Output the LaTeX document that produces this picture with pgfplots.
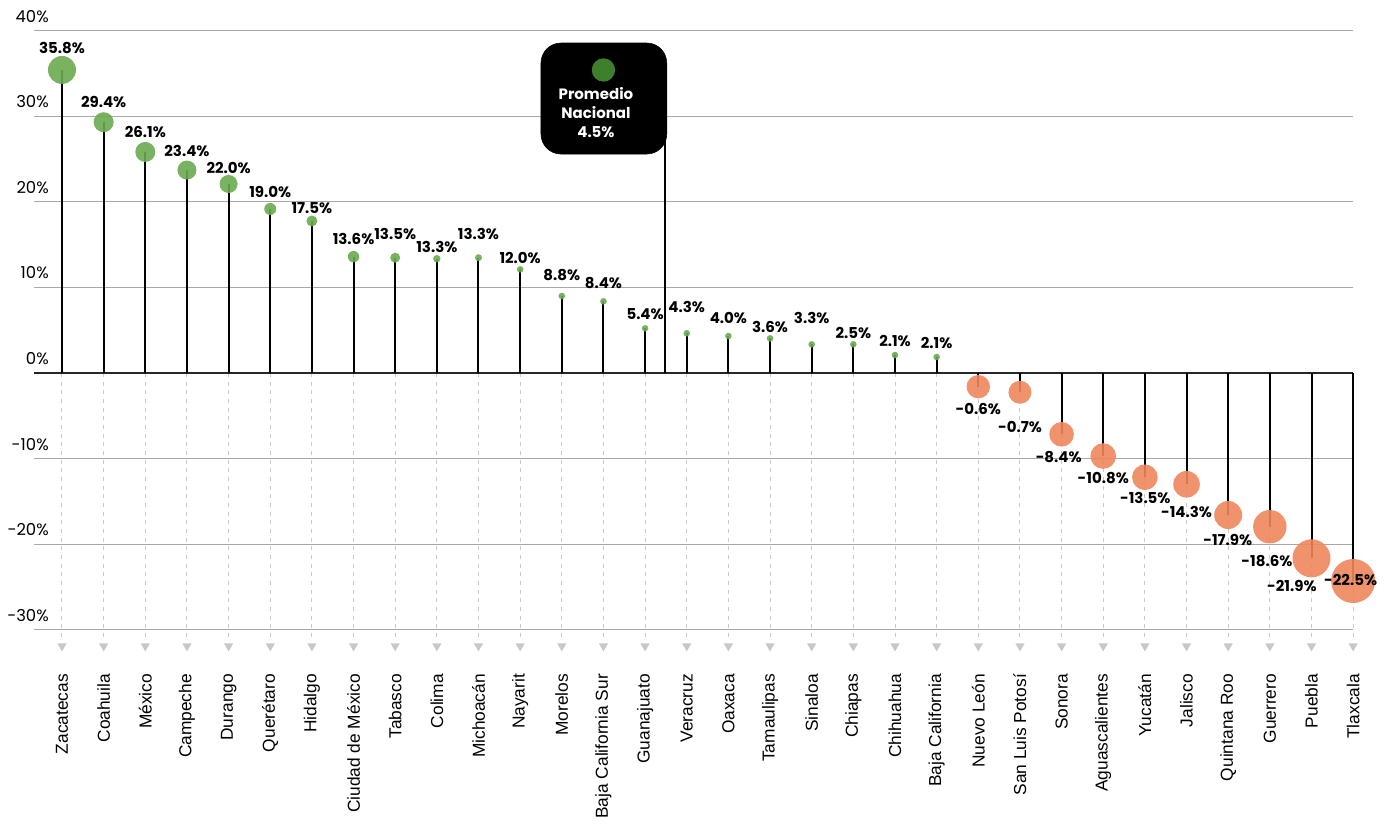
\documentclass[border=0pt]{standalone}
\usepackage{pgfplots}
\pgfplotsset{compat=1.18}
\usepackage{pgfplotstable}
\usepackage{fontspec}
\setmainfont{Poppins}
\newfontfamily\statefont{Liberation Sans}
\definecolor{posgreen}{HTML}{6AAA4F}
\definecolor{natgreen}{HTML}{3D7F2B}
\definecolor{negorange}{HTML}{EE865C}
\definecolor{gridgray}{HTML}{A8A8A8}
\definecolor{dashgray}{HTML}{C8C8C8}

% x: state index, y: drawn dot position, r: dot radius (px), lx/ly: label centre, v: value
\pgfplotstableread{
x  y      r     lx     ly     v
0  35.40  14.0  0      38.00  35.8
1  29.30  10.0  1      31.66  29.4
2  25.82  10.0  2      28.15  26.1
3  23.71  9.5   3      25.93  23.4
4  22.08  9.0   4      23.98  22.0
5  19.16  6.0   5      21.18  19.0
6  17.76  5.5   6      19.31  17.5
7  13.59  5.7   7      15.60  13.6
8  13.47  5.0   8      16.24  13.5
9  13.35  3.7   9      14.75  13.3
10 13.47  3.5   10     16.24  13.3
11 12.11  3.3   11     13.40  12.0
12 9.00   3.3   12     11.48  8.8
13 8.38   3.3   13     10.48  8.4
14 5.22   3.3   14     6.86   5.4
15 4.64   3.3   15     7.75   4.3
16 4.32   3.3   16     6.46   4.0
17 4.05   3.3   17     5.34   3.6
18 3.35   3.3   18     6.43   3.3
19 3.35   3.3   19     4.67   2.5
20 2.10   3.3   20     3.74   2.1
21 1.87   3.3   21     3.47   2.1
}\postab

\pgfplotstableread{
x  y       r     lx     ly      v
22 -1.60   11.7  22.00  -4.24   -0.6
23 -2.25   11.5  23.00  -6.34   -0.7
24 -7.16   12.3  23.93  -9.78   -8.4
25 -9.70   12.8  25.00  -12.30  -10.8
26 -12.18  12.8  26.01  -14.57  -13.5
27 -13.00  13.3  27.00  -16.27  -14.3
28 -16.59  14.0  27.99  -19.51  -17.9
29 -17.96  16.7  28.93  -21.96  -18.6
30 -21.65  19.0  29.53  -24.85  -21.9
31 -24.30  22.0  30.94  -24.18  -22.5
}\negtab

\begin{document}
\begin{tikzpicture}
\begin{axis}[
  x=31.2375pt, y=6.42pt,
  xmin=-0.672, xmax=31, ymin=-30, ymax=40,
  clip=false,
  axis line style={draw=none},
  tick style={draw=none},
  /pgf/number format/assume math mode=true,
  ytick={-30,-20,...,40},
  yticklabel={\pgfmathprintnumber{\tick}\%},
  yticklabel style={anchor=south east, inner sep=0pt, xshift=11.25pt, yshift=6pt,
    font=\fontsize{12.3}{14}\selectfont, text=black},
  ymajorgrids,
  grid style={gridgray, line width=0.75pt},
  xtick={0,...,31},
  xticklabels={Zacatecas,Coahuila,México,Campeche,Durango,Querétaro,Hidalgo,Ciudad de México,Tabasco,Colima,Michoacán,Nayarit,Morelos,Baja California Sur,Guanajuato,Veracruz,Oaxaca,Tamaulipas,Sinaloa,Chiapas,Chihuahua,Baja California,Nuevo León,San Luis Potosí,Sonora,Aguascalientes,Yucatán,Jalisco,Quintana Roo,Guerrero,Puebla,Tlaxcala},
  xticklabel style={rotate=90, anchor=east, inner sep=0pt,
    font=\statefont\fontsize{13}{15}\selectfont, text=black},
  xticklabel shift=33pt,
]
% dashed guides
\addplot[ycomb, dashgray, line width=0.75pt, dash pattern=on 3pt off 3.5pt] coordinates {
(0,-31.2)(1,-31.2)(2,-31.2)(3,-31.2)(4,-31.2)(5,-31.2)(6,-31.2)(7,-31.2)
(8,-31.2)(9,-31.2)(10,-31.2)(11,-31.2)(12,-31.2)(13,-31.2)(14,-31.2)(15,-31.2)
(16,-31.2)(17,-31.2)(18,-31.2)(19,-31.2)(20,-31.2)(21,-31.2)(22,-31.2)(23,-31.2)
(24,-31.2)(25,-31.2)(26,-31.2)(27,-31.2)(28,-31.2)(29,-31.2)(30,-31.2)(31,-31.2)};
% arrow heads
\addplot[dashgray, only marks, mark=triangle*, mark size=4pt, mark options={rotate=180, draw opacity=0, fill=dashgray}] coordinates {
(0,-31.9)(1,-31.9)(2,-31.9)(3,-31.9)(4,-31.9)(5,-31.9)(6,-31.9)(7,-31.9)
(8,-31.9)(9,-31.9)(10,-31.9)(11,-31.9)(12,-31.9)(13,-31.9)(14,-31.9)(15,-31.9)
(16,-31.9)(17,-31.9)(18,-31.9)(19,-31.9)(20,-31.9)(21,-31.9)(22,-31.9)(23,-31.9)
(24,-31.9)(25,-31.9)(26,-31.9)(27,-31.9)(28,-31.9)(29,-31.9)(30,-31.9)(31,-31.9)};
% zero line
\addplot[black!85, line width=1.3pt] coordinates {(-0.672,0) (31,0)};
% stems
\addplot[ycomb, black, line width=1.5pt] table[x=x, y=y] {\postab};
\addplot[ycomb, black, line width=1.5pt] table[x=x, y=y] {\negtab};
\addplot[ycomb, black, line width=1.5pt] coordinates {(14.47,30)};
% bubbles
\addplot[posgreen, scatter, only marks, mark=*,
  scatter/use mapped color={draw=posgreen, fill=posgreen},
  visualization depends on={0.75*\thisrow{r} \as \rad},
  scatter/@pre marker code/.append style={/tikz/mark size=\rad},
  mark options={draw opacity=0, fill opacity=0.9}] table[x=x, y=y] {\postab};
\addplot[negorange, scatter, only marks, mark=*,
  scatter/use mapped color={draw=negorange, fill=negorange},
  visualization depends on={0.75*\thisrow{r} \as \rad},
  scatter/@pre marker code/.append style={/tikz/mark size=\rad},
  mark options={draw opacity=0, fill opacity=0.9}] table[x=x, y=y] {\negtab};
% national average box
\draw[fill=black, rounded corners=15pt] (axis cs:11.5,25.58) rectangle (axis cs:14.52,38.55);
\node[text=white, font=\bfseries\fontsize{11.25}{14.3}\selectfont, align=center, inner sep=0pt]
  at (axis cs:12.82,30.45) {Promedio\\Nacional\\4.5\%};
\addplot[natgreen, only marks, mark=*, mark size=8.75pt, mark options={draw opacity=0, fill=natgreen}] coordinates {(13.0,35.4)};
% value labels
\addplot[only marks, mark=*, mark size=0pt, mark options={draw opacity=0, fill opacity=0},
  point meta=explicit,
  nodes near coords={\pgfmathprintnumber[fixed, fixed zerofill, precision=1]{\pgfplotspointmeta}\%},
  nodes near coords style={anchor=center, inner sep=0pt, text=black, opacity=1, font=\bfseries\fontsize{11.25}{13}\selectfont}]
  table[x=lx, y=ly, meta=v] {\postab};
\addplot[only marks, mark=*, mark size=0pt, mark options={draw opacity=0, fill opacity=0},
  point meta=explicit,
  nodes near coords={\pgfmathprintnumber[fixed, fixed zerofill, precision=1]{\pgfplotspointmeta}\%},
  nodes near coords style={anchor=center, inner sep=0pt, text=black, opacity=1, font=\bfseries\fontsize{11.25}{13}\selectfont}]
  table[x=lx, y=ly, meta=v] {\negtab};
\coordinate (bbsw) at (axis cs:-1.4886,-53.27);
\coordinate (bbne) at (axis cs:31.861,43.575);
\end{axis}
\pgfresetboundingbox
\path[use as bounding box] (bbsw) rectangle (bbne);
\end{tikzpicture}
\end{document}
